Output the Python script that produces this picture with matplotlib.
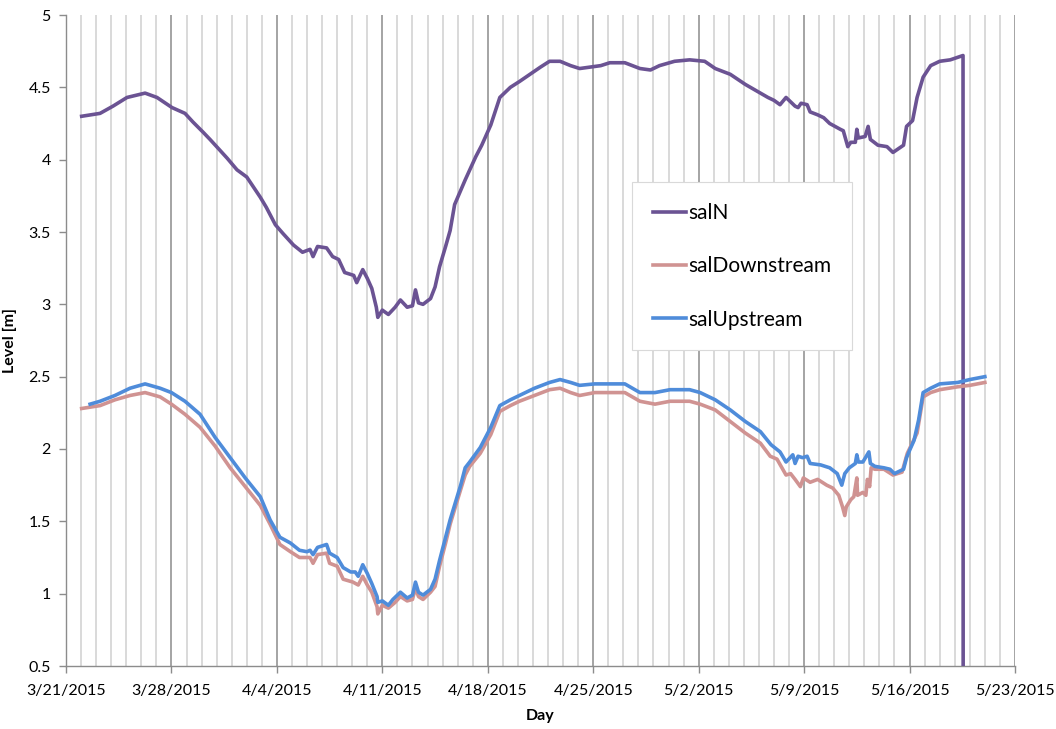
import matplotlib
matplotlib.use("Agg")
import matplotlib.pyplot as plt
import matplotlib.dates as mdates
from matplotlib.ticker import FixedLocator
import numpy as np
import datetime as dt

start = dt.datetime(2015, 3, 21)

# salN: (days since 3/21/2015, level)
saln_days = [1.04, 2.26, 3.12, 4.05, 5.25, 6.04, 7.04, 7.9, 8.43, 9.1, 9.56, 10.0, 10.7, 11.35, 12.0, 12.9,
             13.3, 13.9, 14.4, 15.1, 15.7, 16.2, 16.4, 16.7, 17.3, 17.7, 18.1, 18.5, 19.1, 19.3, 19.7, 20.0,
             20.3, 20.6, 20.7, 21.0, 21.4, 21.85, 22.2, 22.65, 23.0, 23.2, 23.4, 23.7, 24.2, 24.5, 24.8, 25.2,
             25.5, 25.8, 26.5, 27.2, 27.6, 28.2, 28.8, 29.5, 30.1, 30.8, 31.5, 32.1, 32.8, 33.5, 34.1, 34.8,
             35.5, 36.1, 37.1, 38.1, 38.8, 39.4, 40.4, 41.4, 42.4, 43.1, 44.1, 45.1, 46.1, 46.6, 47.0, 47.4,
             47.8, 48.1, 48.4, 48.6, 48.8, 49.2, 49.4, 49.9, 50.3, 50.7, 51.4, 51.6, 51.9, 52.1, 52.4, 52.5,
             52.6, 53.05, 53.25, 53.4, 53.9, 54.5, 54.9, 55.6, 55.8, 56.2, 56.5, 56.9, 57.4, 58.0, 58.7, 59.55,
             59.56]
saln_vals = [4.30, 4.32, 4.37, 4.43, 4.46, 4.43, 4.36, 4.32, 4.26, 4.19, 4.14, 4.09, 4.01, 3.93, 3.88, 3.74,
             3.67, 3.55, 3.49, 3.41, 3.36, 3.38, 3.33, 3.40, 3.39, 3.33, 3.31, 3.22, 3.20, 3.15, 3.24, 3.18,
             3.11, 2.98, 2.91, 2.96, 2.93, 2.98, 3.03, 2.98, 2.99, 3.10, 3.01, 3.00, 3.04, 3.12, 3.26, 3.40,
             3.51, 3.69, 3.86, 4.02, 4.10, 4.24, 4.43, 4.50, 4.54, 4.59, 4.64, 4.68, 4.68, 4.65, 4.63, 4.64,
             4.65, 4.67, 4.67, 4.63, 4.62, 4.65, 4.68, 4.69, 4.68, 4.63, 4.59, 4.52, 4.46, 4.43, 4.41, 4.38,
             4.43, 4.40, 4.37, 4.36, 4.39, 4.38, 4.33, 4.31, 4.29, 4.25, 4.21, 4.20, 4.09, 4.12, 4.12, 4.21,
             4.15, 4.16, 4.23, 4.14, 4.10, 4.09, 4.05, 4.10, 4.23, 4.27, 4.43, 4.57, 4.65, 4.68, 4.69, 4.72,
             0.0]

# salDownstream
down_days = [1.04, 2.26, 3.25, 4.25, 5.25, 6.25, 7.0, 7.9, 8.9, 9.9, 10.9, 11.9, 12.9, 13.55, 14.2, 14.9,
             15.5, 16.2, 16.4, 16.7, 17.3, 17.5, 18.0, 18.4, 19.05, 19.4, 19.7, 20.0, 20.3, 20.65, 20.7, 21.0,
             21.4, 21.85, 22.2, 22.65, 23.0, 23.2, 23.4, 23.7, 24.2, 24.5, 24.8, 25.2, 25.5, 26.2, 26.5, 26.8,
             27.5, 28.2, 28.8, 29.5, 30.1, 31.1, 32.1, 32.8, 33.5, 34.1, 35.1, 36.1, 37.1, 38.1, 39.1, 40.1,
             41.4, 42.1, 43.1, 44.1, 45.1, 46.1, 46.75, 47.2, 47.8, 48.1, 48.4, 48.75, 48.95, 49.4, 49.9, 50.5,
             50.9, 51.3, 51.55, 51.7, 51.8, 52.1, 52.3, 52.5, 52.55, 52.9, 53.1, 53.2, 53.35, 53.45, 53.7, 54.3,
             54.9, 55.5, 55.85, 56.5, 56.9, 57.4, 58.0, 59.2, 60.0, 61.0]
down_vals = [2.28, 2.30, 2.34, 2.37, 2.39, 2.36, 2.31, 2.24, 2.15, 2.02, 1.87, 1.74, 1.61, 1.48, 1.34, 1.29,
             1.25, 1.25, 1.21, 1.27, 1.28, 1.21, 1.19, 1.10, 1.08, 1.06, 1.12, 1.06, 1.01, 0.91, 0.86, 0.92,
             0.90, 0.94, 0.98, 0.95, 0.96, 1.04, 0.98, 0.96, 1.01, 1.05, 1.19, 1.35, 1.48, 1.72, 1.82, 1.88,
             1.97, 2.10, 2.26, 2.30, 2.33, 2.37, 2.41, 2.42, 2.39, 2.37, 2.39, 2.39, 2.39, 2.33, 2.31, 2.33,
             2.33, 2.31, 2.27, 2.19, 2.11, 2.04, 1.95, 1.93, 1.82, 1.83, 1.79, 1.74, 1.80, 1.77, 1.79, 1.75,
             1.73, 1.68, 1.60, 1.54, 1.60, 1.65, 1.67, 1.80, 1.68, 1.70, 1.68, 1.79, 1.74, 1.87, 1.86, 1.86,
             1.82, 1.84, 1.97, 2.11, 2.36, 2.39, 2.41, 2.43, 2.44, 2.46]

# salUpstream
up_days = [1.6, 2.26, 3.25, 4.25, 5.25, 6.25, 7.0, 7.9, 8.9, 9.9, 10.9, 11.9, 12.9, 13.55, 14.2, 14.9,
           15.5, 16.0, 16.2, 16.4, 16.7, 17.3, 17.5, 18.0, 18.4, 18.9, 19.2, 19.4, 19.7, 20.0, 20.3, 20.65,
           20.7, 21.0, 21.4, 21.7, 22.2, 22.65, 23.0, 23.2, 23.4, 23.7, 24.2, 24.5, 24.8, 25.2, 25.5, 26.2,
           26.5, 26.8, 27.5, 28.2, 28.8, 29.5, 30.1, 31.1, 32.1, 32.8, 33.5, 34.1, 35.1, 36.1, 37.1, 38.1,
           39.1, 40.1, 41.4, 42.1, 43.1, 44.1, 45.1, 46.1, 46.8, 47.4, 47.8, 48.25, 48.4, 48.6, 48.9, 49.2,
           49.4, 50.1, 50.7, 51.2, 51.5, 51.7, 52.0, 52.4, 52.5, 52.6, 52.9, 53.3, 53.4, 53.7, 54.3, 54.7,
           55.0, 55.6, 55.8, 56.0, 56.3, 56.6, 56.9, 57.4, 58.0, 59.2, 60.0, 61.0]
up_vals = [2.31, 2.33, 2.37, 2.42, 2.45, 2.42, 2.39, 2.33, 2.24, 2.08, 1.94, 1.80, 1.67, 1.51, 1.39, 1.35,
           1.30, 1.29, 1.30, 1.27, 1.32, 1.34, 1.28, 1.25, 1.18, 1.15, 1.15, 1.12, 1.20, 1.14, 1.07, 0.98,
           0.94, 0.95, 0.92, 0.96, 1.01, 0.97, 0.99, 1.08, 1.01, 0.99, 1.03, 1.10, 1.23, 1.39, 1.51, 1.75,
           1.87, 1.91, 2.01, 2.15, 2.30, 2.34, 2.37, 2.42, 2.46, 2.48, 2.46, 2.44, 2.45, 2.45, 2.45, 2.39,
           2.39, 2.41, 2.41, 2.39, 2.34, 2.27, 2.19, 2.12, 2.03, 1.98, 1.91, 1.96, 1.90, 1.95, 1.94, 1.95,
           1.90, 1.89, 1.87, 1.83, 1.75, 1.83, 1.87, 1.90, 1.96, 1.91, 1.91, 1.98, 1.90, 1.88, 1.87, 1.86,
           1.83, 1.86, 1.94, 1.99, 2.06, 2.20, 2.39, 2.42, 2.45, 2.46, 2.48, 2.50]

series_names = ["salN", "salDownstream", "salUpstream"]
series_colors = ["#6B5393", "#D09392", "#4F8CDA"]

def to_dates(days):
    return [start + dt.timedelta(days=d) for d in days]

plt.rcParams['font.family'] = ['Lato', 'DejaVu Sans']

fig = plt.figure(figsize=(10.56, 7.29), dpi=100)
ax = fig.add_axes([66/1056, 63/729, (1015-66)/1056, (666-15)/729])

xmin = start
xmax = start + dt.timedelta(days=63)
ax.set_xlim(xmin, xmax)
ax.set_ylim(0.5, 5)

major_ticks = [mdates.date2num(start + dt.timedelta(days=7 * k)) for k in range(10)]
minor_ticks = [mdates.date2num(start + dt.timedelta(days=k)) for k in range(64)]
ax.xaxis.set_major_locator(FixedLocator(major_ticks))
ax.xaxis.set_minor_locator(FixedLocator(minor_ticks))
ax.xaxis.set_major_formatter(plt.FuncFormatter(
    lambda v, p: "{d.month}/{d.day}/{d.year}".format(d=mdates.num2date(v + 1e-6))))

ax.grid(which='minor', axis='x', color='#D9D9D9', linewidth=1.4, zorder=0)
ax.grid(which='major', axis='x', color='#8C8C8C', linewidth=1.1, zorder=0)
ax.set_axisbelow(True)

for days, vals, name, col in zip([saln_days, down_days, up_days], [saln_vals, down_vals, up_vals],
                                  series_names, series_colors):
    ax.plot(to_dates(days), vals, color=col, linewidth=2.6, label=name, zorder=3)

ax.set_yticks(np.arange(0.5, 5.01, 0.5))
ax.yaxis.set_major_formatter(plt.FuncFormatter(lambda v, p: "{:g}".format(v)))

for s in ['top', 'right']:
    ax.spines[s].set_visible(False)
for s in ['left', 'bottom']:
    ax.spines[s].set_color('#8C8C8C')
    ax.spines[s].set_linewidth(1.0)

ax.tick_params(axis='both', which='major', labelsize=11.5, color='#8C8C8C', length=5, width=1.0, labelcolor='black')
ax.tick_params(axis='x', which='major', pad=8)
ax.tick_params(axis='x', which='minor', length=0)
ax.tick_params(axis='y', pad=6)

ax.set_xlabel("Day", fontsize=11.5, fontweight='bold', labelpad=8)
ax.set_ylabel("Level [m]", fontsize=11.5, fontweight='bold', labelpad=8)

leg = ax.legend(loc='upper left', bbox_to_anchor=((632-66)/949, (666-182)/651), fontsize=15,
                frameon=True, fancybox=False, edgecolor='#D9D9D9', framealpha=1,
                handlelength=1.6, handletextpad=0.1, labelspacing=1.6, borderpad=1.0, borderaxespad=0)
leg.get_frame().set_linewidth(0.8)

fig.savefig("out.png", dpi=100)
